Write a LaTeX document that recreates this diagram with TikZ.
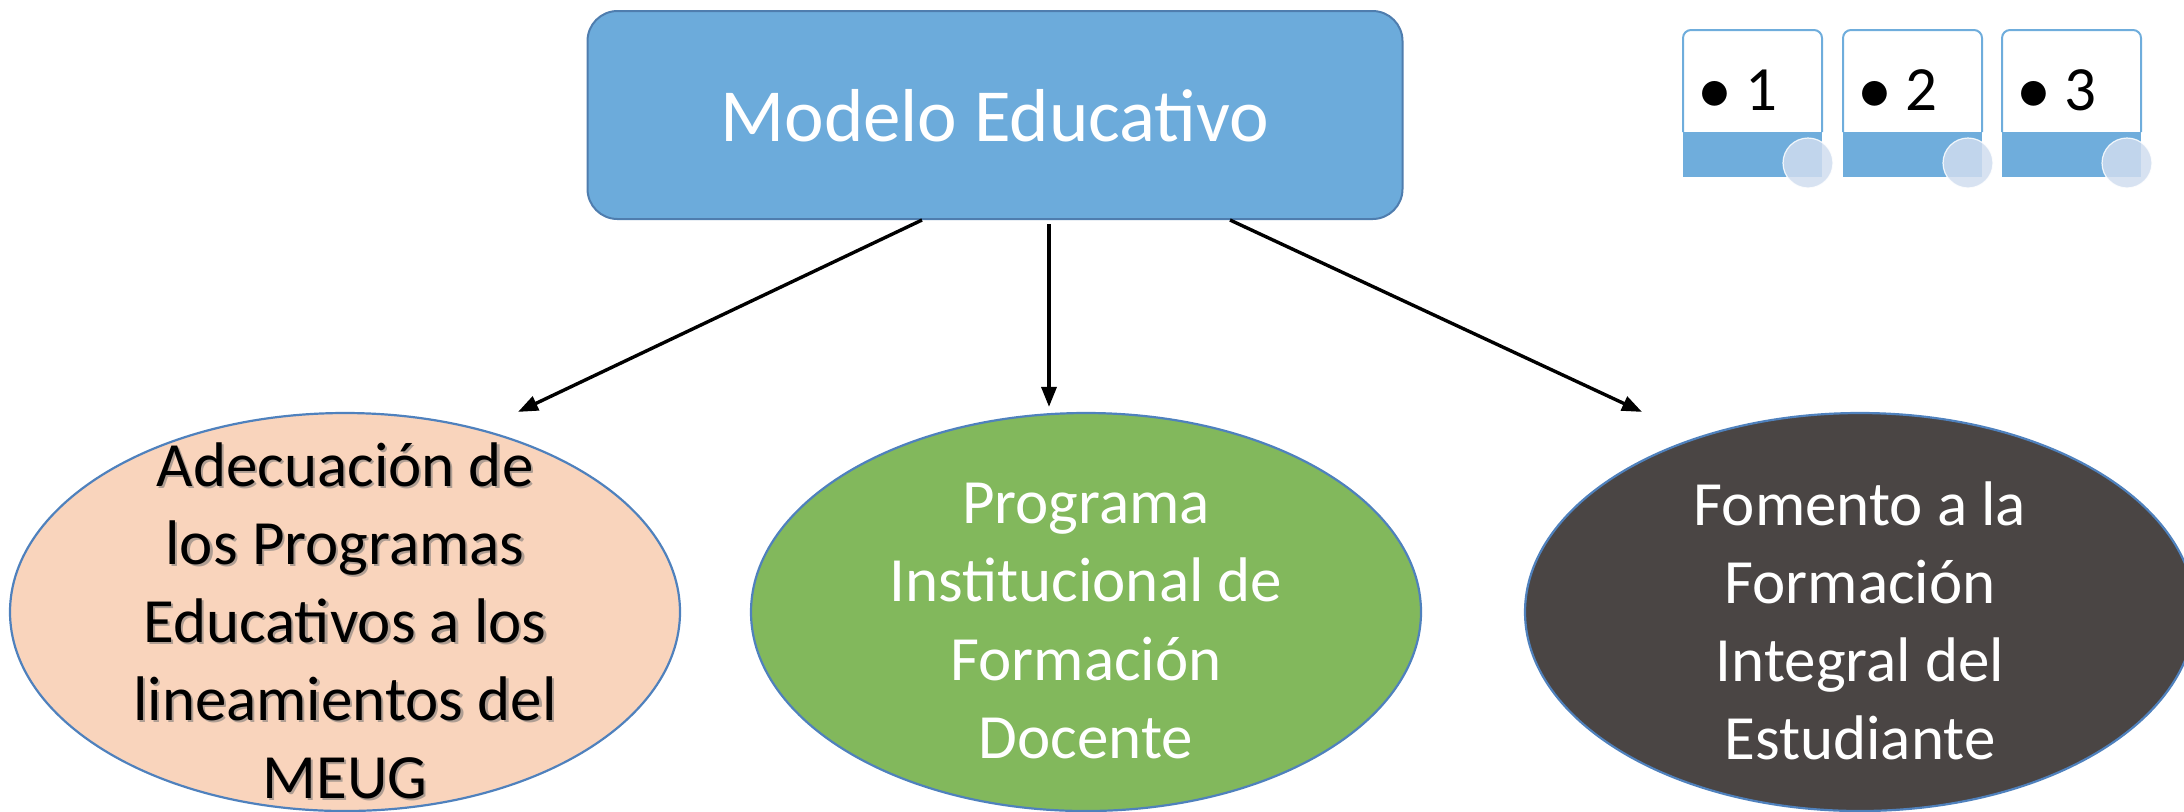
\documentclass[tikz,border=0pt]{standalone}
\usepackage{fontspec}
\setmainfont{Carlito}
\usetikzlibrary{shapes.geometric,arrows.meta}
\definecolor{boxblue}{HTML}{6CABDB}
\definecolor{boxedge}{HTML}{4F7DAE}
\definecolor{ringblue}{HTML}{4F81BD}
\definecolor{peach}{HTML}{F9D4BC}
\definecolor{leafgreen}{HTML}{82B85C}
\definecolor{coal}{HTML}{4A4544}
\definecolor{legblue}{HTML}{6FADDC}
\definecolor{dotblue}{HTML}{D0DDEF}
\newcommand\adectext{Adecuación de\\los Programas\\Educativos a los\\lineamientos del\\MEUG}

\begin{document}
\begin{tikzpicture}[x=0.5pt,y=-0.5pt,
	topbox/.style={draw=boxedge,line width=1pt,fill=boxblue,rounded corners=15pt,
		minimum width=407.5pt,minimum height=104pt,text=white,font=\fontsize{37.5}{44}\selectfont},
	oval/.style={ellipse,draw=ringblue,line width=1.1pt,minimum width=335pt,minimum height=199pt,inner sep=0pt},
	ovaltext/.style={align=center,inner sep=0pt,yshift=-4.5pt,font=\fontsize{31.5}{39}\selectfont},
	conn/.style={line width=1.7pt,-{Triangle[length=10pt,width=7.5pt]}}]
				\clip (0,0) rectangle (2184,811);
				\node[topbox,text depth=-7pt] (modelo) at (995,115) {Modelo Educativo};
				\node[oval,fill=peach,
					label={[ovaltext,text=black!55,opacity=0.55,xshift=1.1pt,yshift=-1.1pt]center:{\adectext}},
					label={[ovaltext]center:{\adectext}}] (adec) at (345,612) {};
				\node[oval,fill=leafgreen,
					label={[ovaltext,text=white]center:{Programa\\Institucional de\\Formación\\Docente}}] (prog) at (1086,612) {};
				\node[oval,fill=coal,
					label={[ovaltext,text=white]center:{Fomento a la\\Formación\\Integral del\\Estudiante}}] (fom) at (1860,612) {};
				\draw[conn] ([xshift=-36.5pt]modelo.south) -- ([xshift=86.5pt]adec.north);
				\draw[conn] ([xshift=27pt,yshift=-2pt]modelo.south) -- ([xshift=-18.5pt,yshift=2.5pt]prog.north);
				\draw[conn] ([xshift=117.5pt]modelo.south) -- ([xshift=-109pt]fom.north);
				\foreach \i/\xx in {1/1683,2/1843,3/2002}{
					\fill[legblue] (\xx,132) rectangle ++(139,45);
					\draw[legblue,line width=1pt,rounded corners=4pt] (\xx,132) -- (\xx,30) -- ++(139,0) -- ++(0,102);
					\node[anchor=base west,inner sep=0pt,font=\fontsize{31.5}{38}\selectfont] (leg\i) at (\xx+14,110)
						{\raisebox{-1.5pt}{\fontsize{35}{35}\selectfont\textbullet}\hspace{6.5pt}\i};
					\fill[dotblue,opacity=0.85,draw=white,line width=0.6pt] (\xx+125,163) circle (12.5pt);
				}
			\end{tikzpicture}
\end{document}
